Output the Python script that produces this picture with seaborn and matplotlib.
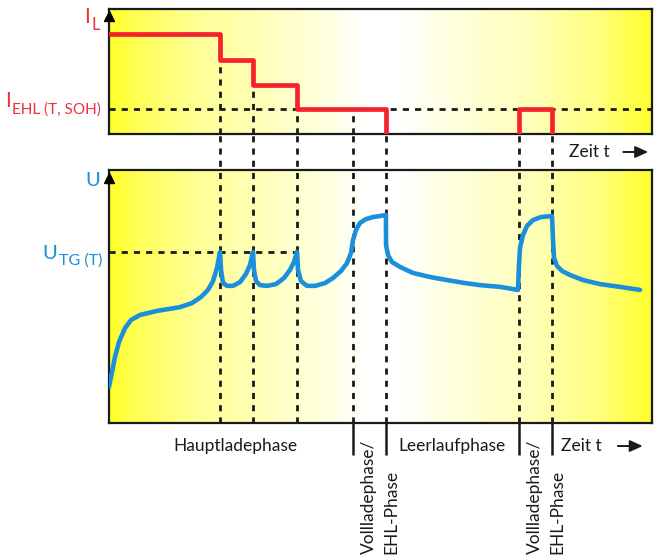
import numpy as np
import seaborn as sns
import matplotlib.pyplot as plt
from matplotlib.colors import LinearSegmentedColormap

# Zeitachse 0..100 (beliebige Einheit), Phasengrenzen
grenzen = [20.4, 26.5, 34.6, 44.9, 51.0, 75.5, 81.6]
phasen = ["Hauptladephase", "Leerlaufphase"]
phasen_mitte = [23.2, 63.2]
voll_grenzen = [(44.9, 51.0), (75.5, 81.6)]

# Ladestrom I_L (Treppe) und EHL-Puls
strom_t = [0, 20.4, 26.5, 34.6, 51.0]
strom_i = [0.80, 0.59, 0.39, 0.20, 0.0]
puls_t = [75.5, 75.5, 81.6]
puls_i = [0.0, 0.20, 0.0]
i_ehl = 0.20

# Spannung U
u_tg = 0.676
zeit = [0.0, 0.55, 1.1, 1.84, 2.95, 4.05, 5.71, 8.84, 13.08, 15.29, 16.94, 18.23,
        19.15, 19.89, 20.44, 20.63, 21.0, 21.73, 22.84, 24.13, 25.23, 25.97, 26.52,
        26.70, 27.07, 27.81, 29.10, 30.76, 32.23, 33.33, 34.07, 34.62, 34.81, 35.36,
        36.46, 37.94, 39.78, 41.25, 42.73, 43.83, 44.57, 44.94, 45.49, 46.22, 47.33,
        48.62, 49.91, 51.0, 51.02, 51.38, 52.12, 53.59, 55.99, 59.12, 62.25, 65.56,
        68.32, 72.0, 75.32, 75.5, 75.69, 76.24, 76.98, 78.08, 79.56, 81.58, 81.77,
        81.95, 82.50, 83.43, 84.90, 87.29, 90.42, 94.11, 97.79]
spannung = [0.142, 0.202, 0.261, 0.320, 0.375, 0.407, 0.427, 0.443, 0.458, 0.474,
            0.498, 0.526, 0.561, 0.613, 0.676, 0.605, 0.553, 0.542, 0.542, 0.557,
            0.589, 0.625, 0.676, 0.605, 0.561, 0.545, 0.542, 0.549, 0.573, 0.605,
            0.636, 0.676, 0.605, 0.561, 0.542, 0.542, 0.553, 0.573, 0.601, 0.632,
            0.672, 0.723, 0.763, 0.791, 0.806, 0.814, 0.818, 0.822, 0.704, 0.664,
            0.636, 0.617, 0.593, 0.577, 0.565, 0.553, 0.545, 0.538, 0.526, 0.625,
            0.692, 0.743, 0.779, 0.802, 0.814, 0.818, 0.723, 0.652, 0.621, 0.601,
            0.585, 0.565, 0.549, 0.538, 0.526]

ROT = '#f5222d'
ROT_TXT = '#f0303c'
BLAU = '#1a8fdc'
SCHWARZ = '#1a1a1a'

sns.set_style('white')
plt.rcParams['font.family'] = ['Lato', 'DejaVu Sans']

hell = LinearSegmentedColormap.from_list('gelb', [
    (0.00, '#ffff2a'), (0.05, '#ffff55'), (0.15, '#ffff92'), (0.30, '#ffffc0'),
    (0.42, '#ffffe8'), (0.47, '#ffffff'), (0.53, '#ffffff'), (0.63, '#ffffe0'),
    (0.78, '#ffffb8'), (0.90, '#ffff80'), (1.00, '#ffff2a')])
verlauf = np.linspace(0, 1, 512)[None, :]

fig = plt.figure(figsize=(6.59, 5.59), dpi=100)
ax_i = fig.add_axes([0.1654, 0.7603, 0.824, 0.2236])
ax_u = fig.add_axes([0.1654, 0.2433, 0.824, 0.4526])

for ax in (ax_i, ax_u):
    ax.imshow(verlauf, cmap=hell, extent=[0, 100, 0, 1], aspect='auto',
              interpolation='bicubic', zorder=0)
    ax.set_xlim(0, 100)
    ax.set_ylim(0, 1)
    ax.set_xticks([])
    ax.set_yticks([])
    ax.set_xlabel('')
    ax.set_ylabel('')
    for s in ax.spines.values():
        s.set_visible(True)
        s.set_color(SCHWARZ)
        s.set_linewidth(1.6)

strich = dict(color=SCHWARZ, lw=2.0, linestyle=(0, (2.2, 2.2)))


def strom_bei(t):
    wert = 0.0
    for st, si in zip(strom_t, strom_i):
        if st <= t:
            wert = si
    return wert


# --- oberes Diagramm: Strom ---
ax_i.hlines(i_ehl, 0, 100, zorder=2, **strich)
for g in grenzen:
    ax_i.vlines(g, 0, strom_bei(g), zorder=2, **strich)
sns.lineplot(x=strom_t, y=strom_i, ax=ax_i, sort=False, estimator=None,
             drawstyle='steps-post', color=ROT, lw=3.4, zorder=4)
sns.lineplot(x=puls_t, y=puls_i, ax=ax_i, sort=False, estimator=None,
             drawstyle='steps-post', color=ROT, lw=3.4, zorder=4)
ax_i.plot(0, 0.945, marker='^', color='k', ms=6.5, transform=ax_i.transAxes,
          clip_on=False, zorder=6)


def achsen_label(ax, x, y, haupt, index, farbe, g_haupt, g_index, hub):
    t = ax.text(x, y, index, transform=ax.transAxes, ha='right', va='baseline',
                color=farbe, fontsize=g_index)
    ax.annotate(haupt, xy=(0, 0), xycoords=t, xytext=(-0.8, hub),
                textcoords='offset points', ha='right', va='baseline',
                color=farbe, fontsize=g_haupt)


achsen_label(ax_i, -0.0166, 0.832, 'I', 'L', ROT_TXT, 15, 12, 7.5)
achsen_label(ax_i, -0.0147, 0.16, 'I', 'EHL (T, SOH)', ROT_TXT, 15, 11, 7.5)

pfeil = dict(arrowstyle='-|>,head_length=0.55,head_width=0.25',
             color=SCHWARZ, lw=1.4, mutation_scale=14)

ax_i.text(84.7, -0.144, 'Zeit t', ha='left', va='center', fontsize=12.5,
          color=SCHWARZ, clip_on=False)
ax_i.annotate('', xy=(99.8, -0.144), xytext=(94.2, -0.144),
              arrowprops=pfeil, annotation_clip=False)

# --- unteres Diagramm: Spannung ---
ax_u.hlines(u_tg, 0, 34.6, zorder=2, **strich)
for g in grenzen:
    ax_u.vlines(g, 0, 1.142, zorder=2, clip_on=False, **strich)
sns.lineplot(x=zeit, y=spannung, ax=ax_u, sort=False, estimator=None,
             color=BLAU, lw=3.3, zorder=4)
ax_u.lines[-1].set_solid_joinstyle('round')
ax_u.lines[-1].set_solid_capstyle('round')
ax_u.plot(0, 0.968, marker='^', color='k', ms=6.5, transform=ax_u.transAxes,
          clip_on=False, zorder=6)

ax_u.text(-0.0166, 0.937, 'U', transform=ax_u.transAxes, ha='right',
          va='baseline', color=BLAU, fontsize=14.5)
achsen_label(ax_u, -0.0129, 0.6245, 'U', 'TG (T)', BLAU, 14.5, 11.5, 6.5)

# Phasen unter der Zeitachse
for name, mitte in zip(phasen, phasen_mitte):
    ax_u.text(mitte, -0.091, name, ha='center', va='center', fontsize=12.5,
              color=SCHWARZ, clip_on=False)
for a, b in voll_grenzen:
    ax_u.vlines([a, b], -0.126, 0, color=SCHWARZ, lw=1.8, clip_on=False)
    ax_u.text(a + 3.0, -0.518, 'Vollladephase/', rotation=90, ha='center',
              va='bottom', fontsize=12.5, color=SCHWARZ, clip_on=False)
    ax_u.text(b + 1.0, -0.518, 'EHL-Phase', rotation=90, ha='center',
              va='bottom', fontsize=12.5, color=SCHWARZ, clip_on=False)

ax_u.text(83.2, -0.091, 'Zeit t', ha='left', va='center', fontsize=12.5,
          color=SCHWARZ, clip_on=False)
ax_u.annotate('', xy=(98.8, -0.091), xytext=(93.2, -0.091),
              arrowprops=pfeil, annotation_clip=False)

fig.savefig('out.png', dpi=100)
